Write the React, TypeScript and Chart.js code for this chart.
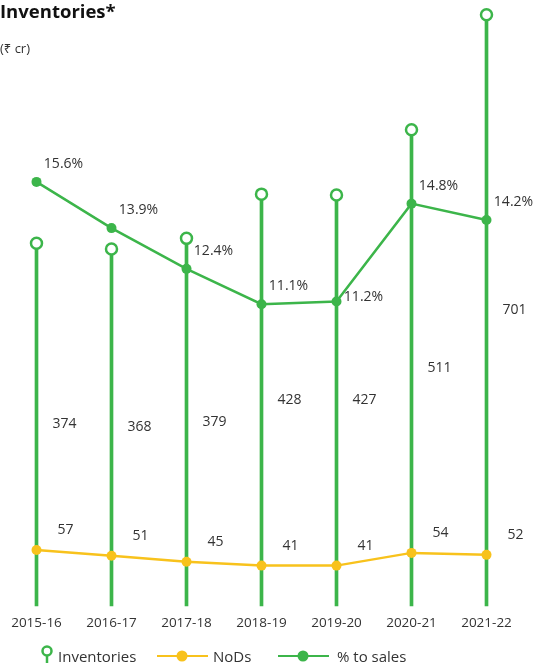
import React, { useEffect, useRef } from "react";
import { Chart, registerables } from "chart.js";

Chart.register(...registerables);

const categories = ["2015-16", "2016-17", "2017-18", "2018-19", "2019-20", "2020-21", "2021-22"];
const inventories = [374, 368, 379, 428, 427, 511, 701];
const nods = [57, 51, 45, 41, 41, 54, 52];
const pctToSales = [15.6, 13.9, 12.4, 11.1, 11.2, 14.8, 14.2];

const GREEN = "#3cb54a";
const YELLOW = "#f8c21c";
const TEXT = "#333333";
const FONT = "'Open Sans', 'Noto Sans', 'DejaVu Sans', sans-serif";

const labelPlugin = {
  id: "valueLabels",
  afterDatasetsDraw(chart: any) {
    const ctx = chart.ctx;
    ctx.save();
    ctx.fillStyle = TEXT;
    ctx.font = `14px ${FONT}`;
    ctx.textAlign = "center";
    ctx.textBaseline = "middle";
    // inventories: centred on stem, to the right
    const invMeta = chart.getDatasetMeta(0);
    invMeta.data.forEach((bar: any, i: number) => {
      const y = (bar.y + bar.base) / 2;
      ctx.fillText(String(inventories[i]), bar.x + 28, y);
    });
    // NoDs
    const nodMeta = chart.getDatasetMeta(2);
    nodMeta.data.forEach((pt: any, i: number) => {
      ctx.fillText(String(nods[i]), pt.x + 29, pt.y - 20);
    });
    // % to sales
    const pctMeta = chart.getDatasetMeta(3);
    pctMeta.data.forEach((pt: any, i: number) => {
      const next = pctToSales[i + 1];
      const rising = next !== undefined && next - pctToSales[i] > 1;
      const dy = rising ? -4 : -18;
      ctx.fillText(pctToSales[i].toFixed(1) + "%", pt.x + 27, pt.y + dy);
    });
    ctx.restore();
  },
};

export default function App() {
  const canvasRef = useRef<HTMLCanvasElement | null>(null);

  useEffect(() => {
    if (!canvasRef.current) return;
    const chart = new Chart(canvasRef.current, {
      type: "bar",
      data: {
        labels: categories,
        datasets: [
          {
            type: "bar",
            label: "Inventories",
            data: inventories,
            backgroundColor: GREEN,
            barThickness: 3,
            yAxisID: "yInv",
            clip: false,
            order: 5,
          } as any,
          {
            type: "line",
            label: "Inventories heads",
            data: inventories,
            showLine: false,
            pointRadius: 5.5,
            pointBorderWidth: 2.5,
            pointBackgroundColor: "#ffffff",
            pointBorderColor: GREEN,
            borderColor: GREEN,
            yAxisID: "yInv",
            clip: false,
            order: 1,
          } as any,
          {
            type: "line",
            label: "NoDs",
            data: nods,
            borderColor: YELLOW,
            borderWidth: 2.5,
            pointRadius: 5,
            pointBackgroundColor: YELLOW,
            pointBorderColor: YELLOW,
            pointBorderWidth: 0,
            yAxisID: "yNod",
            clip: false,
            order: 2,
          } as any,
          {
            type: "line",
            label: "% to sales",
            data: pctToSales,
            borderColor: GREEN,
            borderWidth: 2.5,
            pointRadius: 5,
            pointBackgroundColor: GREEN,
            pointBorderColor: GREEN,
            pointBorderWidth: 0,
            yAxisID: "yPct",
            clip: false,
            order: 0,
          } as any,
        ],
      },
      options: {
        animation: false,
        responsive: false,
        maintainAspectRatio: false,
        layout: { padding: { left: 36.5, right: 51.5, top: 2, bottom: 29 } },
        plugins: {
          legend: { display: false },
          tooltip: { enabled: false },
          title: { display: false },
        },
        scales: {
          x: {
            type: "category",
            offset: false,
            grid: { display: false, drawTicks: false },
            border: { display: false },
            ticks: {
              color: TEXT,
              padding: 9.5,
              maxRotation: 0,
              autoSkip: false,
              font: { family: FONT, size: 13.5 },
            },
          },
          yInv: { type: "logarithmic", display: false, min: 138, max: 714 },
          yNod: { type: "linear", display: false, min: 0, max: 610 },
          yPct: { type: "linear", display: false, min: 0, max: 22 },
        } as any,
      },
      plugins: [labelPlugin],
    });
    return () => chart.destroy();
  }, []);

  const textStyle: React.CSSProperties = {
    position: "absolute",
    fontFamily: FONT,
    color: TEXT,
    fontSize: 15,
    lineHeight: "18px",
    whiteSpace: "nowrap",
  };

  return (
    <div style={{ position: "absolute", left: 0, top: 0, width: 538, height: 670, background: "#ffffff", overflow: "hidden" }}>
      <canvas ref={canvasRef} width={538} height={670} style={{ position: "absolute", left: 0, top: 0, width: 538, height: 670 }} />
      <div style={{ position: "absolute", left: 0, top: -2, fontFamily: FONT, fontWeight: 700, fontSize: 18.5, color: "#111", whiteSpace: "nowrap" }}>
        Inventories*
      </div>
      <div style={{ position: "absolute", left: 0, top: 39, fontFamily: FONT, fontSize: 13, color: TEXT, whiteSpace: "nowrap" }}>
        (₹ cr)
      </div>
      {/* legend */}
      <svg style={{ position: "absolute", left: 40, top: 645 }} width={14} height={19}>
        <circle cx={7} cy={6} r={4.5} fill="#ffffff" stroke={GREEN} strokeWidth={2.5} />
        <line x1={7} y1={10.5} x2={7} y2={18} stroke={GREEN} strokeWidth={2.5} />
      </svg>
      <div style={{ ...textStyle, left: 58, top: 647 }}>Inventories</div>
      <svg style={{ position: "absolute", left: 157, top: 650 }} width={51} height={12}>
        <line x1={0} y1={6} x2={51} y2={6} stroke={YELLOW} strokeWidth={2} />
        <circle cx={25} cy={6} r={5.5} fill={YELLOW} />
      </svg>
      <div style={{ ...textStyle, left: 213, top: 647 }}>NoDs</div>
      <svg style={{ position: "absolute", left: 278, top: 650 }} width={51} height={12}>
        <line x1={0} y1={6} x2={51} y2={6} stroke={GREEN} strokeWidth={2} />
        <circle cx={25} cy={6} r={5.5} fill={GREEN} />
      </svg>
      <div style={{ ...textStyle, left: 337, top: 647 }}>% to sales</div>
    </div>
  );
}
